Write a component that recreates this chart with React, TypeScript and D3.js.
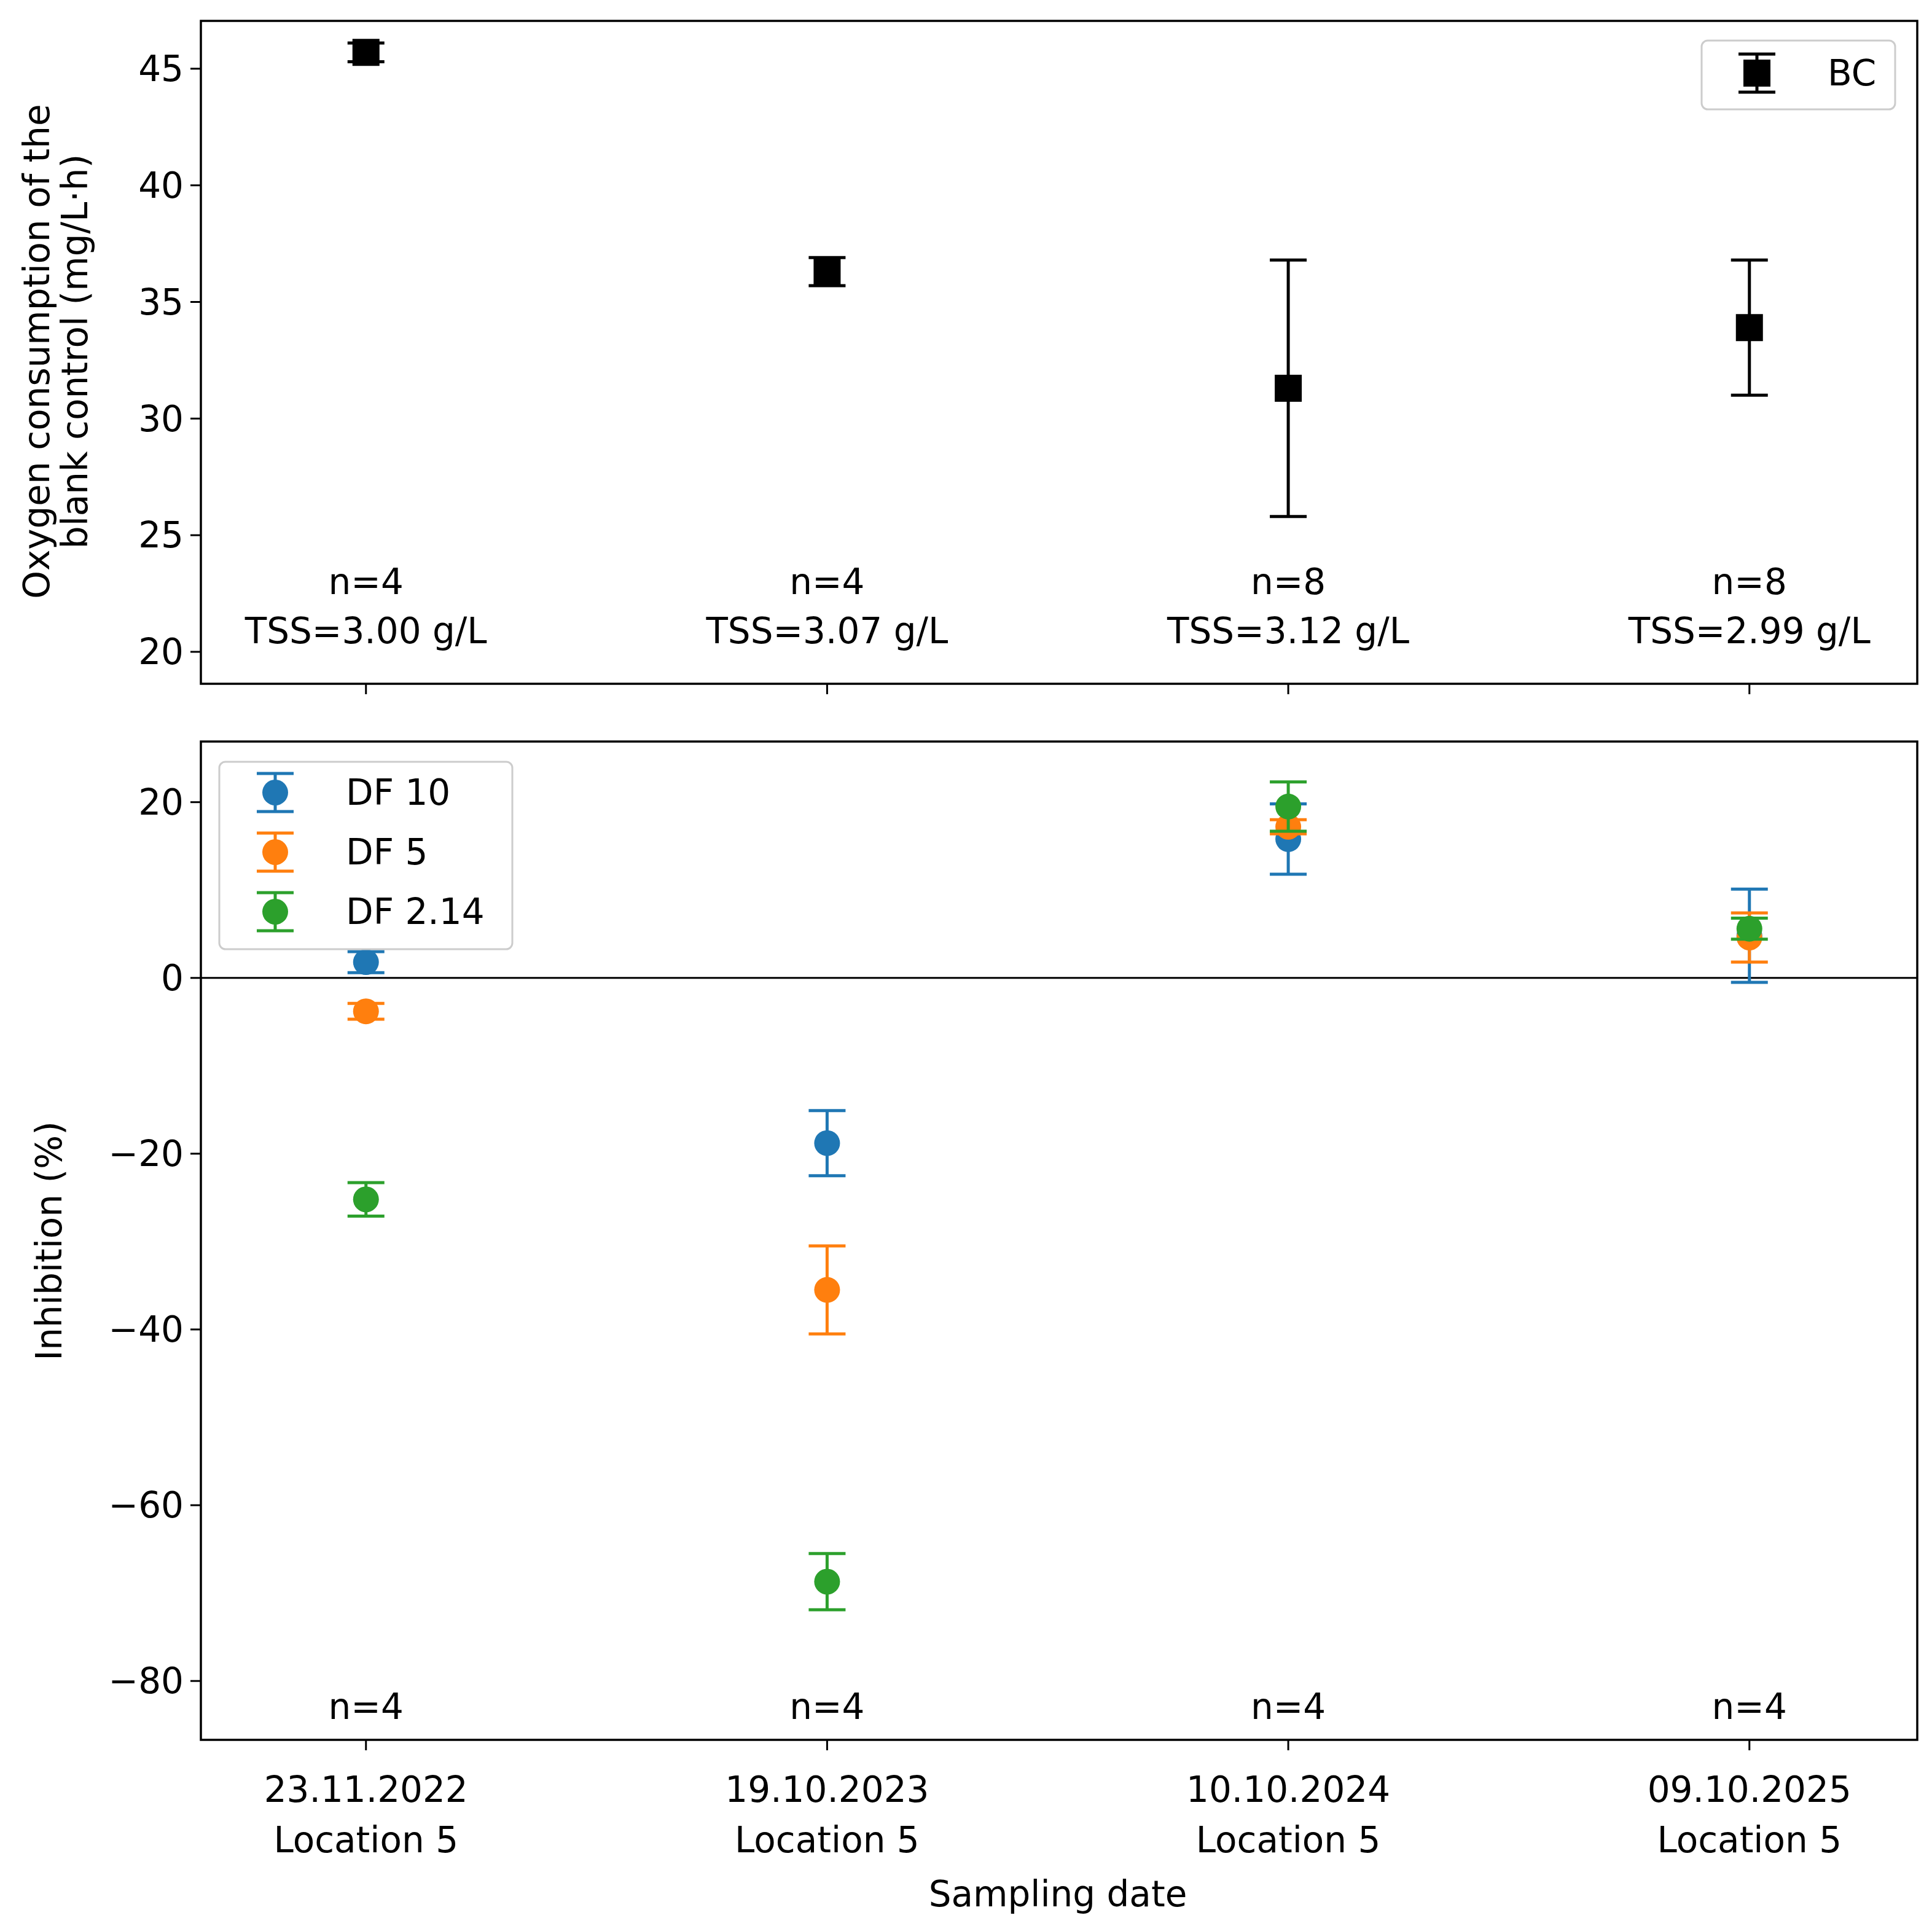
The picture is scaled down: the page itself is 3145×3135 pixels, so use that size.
import * as d3 from 'd3';

const dates = ['23.11.2022', '19.10.2023', '10.10.2024', '09.10.2025'];
const location = 'Location 5';
const bcMean = [45.7, 36.3, 31.3, 33.9];
const bcErr = [0.4, 0.6, 5.5, 2.9];
const bcN = ['n=4', 'n=4', 'n=8', 'n=8'];
const tss = ['TSS=3.00 g/L', 'TSS=3.07 g/L', 'TSS=3.12 g/L', 'TSS=2.99 g/L'];
const inhN = ['n=4', 'n=4', 'n=4', 'n=4'];
const seriesNames = ['DF 10', 'DF 5', 'DF 2.14'];
const seriesColors = ['#1f77b4', '#ff7f0e', '#2ca02c'];
const df10 = [1.8, -18.8, 15.8, 4.8];
const df10Err = [1.2, 3.7, 4.0, 5.3];
const df5 = [-3.8, -35.5, 17.2, 4.6];
const df5Err = [0.9, 5.0, 0.8, 2.8];
const df214 = [-25.2, -68.7, 19.5, 5.6];
const df214Err = [1.9, 3.2, 2.8, 1.2];
const topTicks = [20, 25, 30, 35, 40, 45];
const botTicks = [-80, -60, -40, -20, 0, 20];

const W = 3145, H = 3135;
const L = 327, R = 3121;
const T1 = 34, B1 = 1113, T2 = 1207, B2 = 2832;
const FS = 58;
const font = 'DejaVu Sans';

export default function App() {
  const x = d3.scaleLinear().domain([-0.358, 3.364]).range([L, R]);
  const y1 = d3.scaleLinear().domain([18.63, 47.05]).range([B1, T1]);
  const y2 = d3.scaleLinear().domain([-86.7, 26.9]).range([B2, T2]);
  const series = [
    { v: df10, e: df10Err },
    { v: df5, e: df5Err },
    { v: df214, e: df214Err },
  ];
  const cap = 30;
  const lw = 5;

  const errBar = (cx: number, yLo: number, yHi: number, color: string, key: string) => (
    <g key={key} stroke={color} strokeWidth={lw}>
      <line x1={cx} x2={cx} y1={yLo} y2={yHi} />
      <line x1={cx - cap} x2={cx + cap} y1={yLo} y2={yLo} />
      <line x1={cx - cap} x2={cx + cap} y1={yHi} y2={yHi} />
    </g>
  );

  return (
    <svg width={W} height={H} style={{ display: 'block', margin: -8 }} fontFamily={font}>
      <rect width={W} height={H} fill="#fff" />
      {/* top panel */}
      {topTicks.map((t) => (
        <g key={t}>
          <line x1={L - 17} x2={L} y1={y1(t)} y2={y1(t)} stroke="#000" strokeWidth={3} />
          <text x={L - 28} y={y1(t)} dy="0.35em" textAnchor="end" fontSize={FS}>{t}</text>
        </g>
      ))}
      {dates.map((_, i) => (
        <line key={i} x1={x(i)} x2={x(i)} y1={B1} y2={B1 + 17} stroke="#000" strokeWidth={3} />
      ))}
      {bcMean.map((m, i) => (
        <g key={i}>
          {errBar(x(i), y1(m - bcErr[i]), y1(m + bcErr[i]), '#000', 'e' + i)}
          <rect x={x(i) - 22} y={y1(m) - 22} width={44} height={44} fill="#000" />
          <text x={x(i)} y={967} textAnchor="middle" fontSize={FS}>{bcN[i]}</text>
          <text x={x(i)} y={1047} textAnchor="middle" fontSize={FS}>{tss[i]}</text>
        </g>
      ))}
      <rect x={L} y={T1} width={R - L} height={B1 - T1} fill="none" stroke="#000" strokeWidth={3.5} />
      <g>
        <rect x={2770} y={66} width={315} height={112} rx={10} fill="#fff" stroke="#ccc" strokeWidth={3} />
        {errBar(2860, 88, 150, '#000', 'lbc')}
        <rect x={2838} y={97} width={44} height={44} fill="#000" />
        <text x={2975} y={119} dy="0.35em" fontSize={FS}>BC</text>
      </g>
      <text transform={`translate(80,572) rotate(-90)`} textAnchor="middle" fontSize={FS}>Oxygen consumption of the</text>
      <text transform={`translate(142,572) rotate(-90)`} textAnchor="middle" fontSize={FS}>blank control (mg/L·h)</text>

      {/* bottom panel */}
      {botTicks.map((t) => (
        <g key={t}>
          <line x1={L - 17} x2={L} y1={y2(t)} y2={y2(t)} stroke="#000" strokeWidth={3} />
          <text x={L - 28} y={y2(t)} dy="0.35em" textAnchor="end" fontSize={FS}>{t < 0 ? '\u2212' + -t : t}</text>
        </g>
      ))}
      <line x1={L} x2={R} y1={y2(0)} y2={y2(0)} stroke="#000" strokeWidth={3} />
      {series.map((s, k) =>
        s.v.map((m, i) => (
          <g key={k + '-' + i}>
            {errBar(x(i), y2(m - s.e[i]), y2(m + s.e[i]), seriesColors[k], 'b' + k + i)}
            <circle cx={x(i)} cy={y2(m)} r={21} fill={seriesColors[k]} />
          </g>
        ))
      )}
      {inhN.map((n, i) => (
        <text key={i} x={x(i)} y={2798} textAnchor="middle" fontSize={FS}>{n}</text>
      ))}
      {dates.map((d, i) => (
        <g key={d}>
          <line x1={x(i)} x2={x(i)} y1={B2} y2={B2 + 17} stroke="#000" strokeWidth={3} />
          <text x={x(i)} y={2933} textAnchor="middle" fontSize={FS}>{d}</text>
          <text x={x(i)} y={3015} textAnchor="middle" fontSize={FS}>{location}</text>
        </g>
      ))}
      <rect x={L} y={T2} width={R - L} height={B2 - T2} fill="none" stroke="#000" strokeWidth={3.5} />
      <g>
        <rect x={357} y={1240} width={477} height={305} rx={10} fill="#fff" stroke="#ccc" strokeWidth={3} />
        {seriesNames.map((n, k) => {
          const cy = 1290 + k * 97;
          return (
            <g key={n}>
              {errBar(448, cy + 31, cy - 31, seriesColors[k], 'l' + k)}
              <circle cx={448} cy={cy} r={21} fill={seriesColors[k]} />
              <text x={563} y={cy} dy="0.35em" fontSize={FS}>{n}</text>
            </g>
          );
        })}
      </g>
      <text transform={`translate(100,2020) rotate(-90)`} textAnchor="middle" fontSize={FS}>Inhibition (%)</text>
      <text x={1722} y={3103} textAnchor="middle" fontSize={FS}>Sampling date</text>
    </svg>
  );
}
